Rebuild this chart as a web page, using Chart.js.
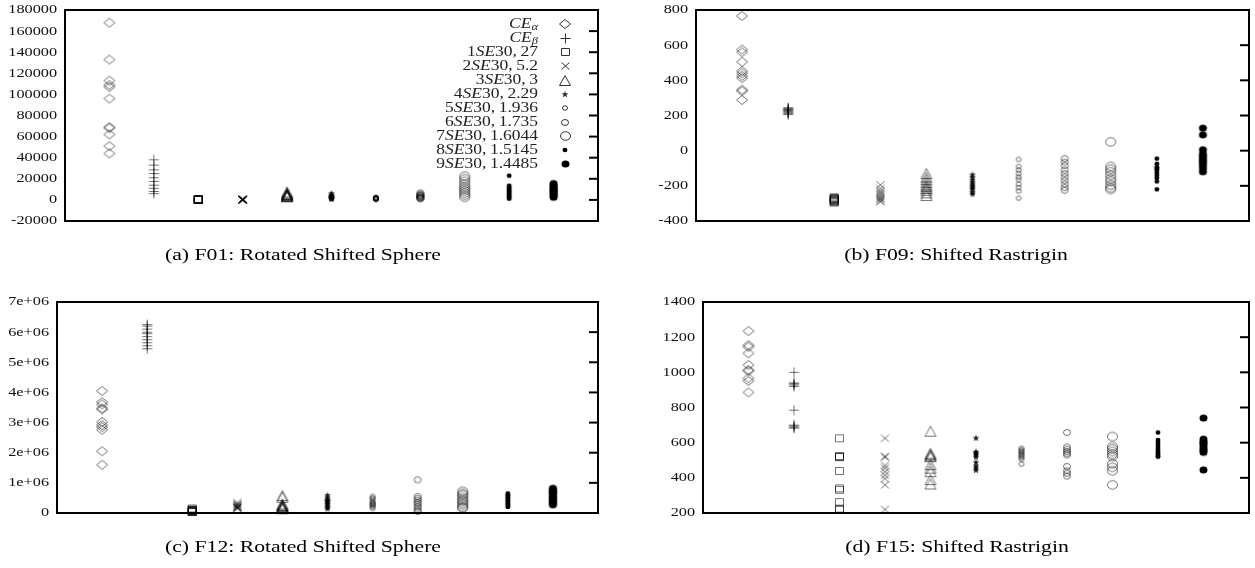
<!DOCTYPE html>
<html>
<head>
<meta charset="utf-8">
<script src="https://cdn.jsdelivr.net/npm/chart.js@4.4.1/dist/chart.umd.min.js"></script>
<style>
    body { margin: 0; background: #fff; width: 1255px; height: 568px; position: relative; overflow: hidden; font-family: "Liberation Serif", serif; }
    canvas { position: absolute; left: 0; top: 0; }
    .cap { position: absolute; font-size: 17.5px; white-space: nowrap; color: #000; transform: translate(-50%, -50%) scaleX(1.24); }
</style>
</head>
<body>
<canvas id="f01" width="1255" height="568"></canvas>
<canvas id="f09" width="1255" height="568"></canvas>
<canvas id="f12" width="1255" height="568"></canvas>
<canvas id="f15" width="1255" height="568"></canvas>
<div class="cap" style="left:303px;top:254px">(a) F01: Rotated Shifted Sphere</div>
<div class="cap" style="left:956px;top:254px">(b) F09: Shifted Rastrigin</div>
<div class="cap" style="left:303px;top:546px">(c) F12: Rotated Shifted Sphere</div>
<div class="cap" style="left:957px;top:546px">(d) F15: Shifted Rastrigin</div>
<script>
// categorias (ordem do eixo x)
const categories = ['CE_α', 'CE_β', '1SE30, 27', '2SE30, 5.2', '3SE30, 3', '4SE30, 2.29',
    '5SE30, 1.936', '6SE30, 1.735', '7SE30, 1.6044', '8SE30, 1.5145', '9SE30, 1.4485'];
const markerKinds = ['diamond', 'plus', 'square', 'cross', 'triangle', 'star', 'ringS', 'ring', 'ringL', 'dotS', 'dot'];

// F01: Rotated Shifted Sphere
const f01Values = [
    [168000, 133000, 113000, 109000, 107000, 96000, 69000, 68000, 62000, 51000, 44000],
    [38000, 33000, 28500, 25000, 21000, 17500, 14000, 11000, 8000, 6000],
    [900, 700, 500, 400, 300, 250, 200, 150, 100, 50],
    [600, 450, 350, 280, 220, 180, 140, 100, 70, 40],
    [7500, 6500, 5800, 5200, 5000, 4500, 4000, 3600, 3200, 2900],
    [6500, 5000, 4200, 3500, 3000, 2600, 2200, 1800, 1400, 1100],
    [2500, 2100, 1800, 1600, 1500, 1300, 1100, 900, 700, 500],
    [6600, 5600, 4800, 4200, 3600, 3000, 2500, 2000, 1500, 1000],
    [22500, 20000, 17500, 15000, 12500, 10500, 8500, 6500, 4500, 2500],
    [23000, 13500, 11500, 10000, 8500, 7000, 5500, 4000, 2500, 1200],
    [15500, 14000, 12500, 11000, 9500, 8500, 7000, 5500, 4000, 2500]
];
const f01Ticks = [-20000, 0, 20000, 40000, 60000, 80000, 100000, 120000, 140000, 160000, 180000];
const f01TickLabels = ['-20000', '0', '20000', '40000', '60000', '80000', '100000', '120000', '140000', '160000', '180000'];

// F09: Shifted Rastrigin
const f09Values = [
    [766, 575, 560, 505, 453, 440, 425, 412, 347, 338, 288],
    [245, 240, 235, 232, 228, 225, 220, 215, 210, 205],
    [-265, -270, -272, -275, -278, -280, -285, -288, -290, -295],
    [-195, -215, -230, -240, -250, -260, -270, -275, -285, -290],
    [-130, -150, -165, -180, -195, -205, -215, -225, -240, -255],
    [-135, -150, -165, -178, -190, -200, -210, -220, -235, -245],
    [-50, -90, -110, -130, -150, -165, -190, -210, -230, -270],
    [-45, -65, -85, -110, -130, -150, -170, -190, -210, -225],
    [50, -90, -105, -120, -140, -160, -175, -195, -210, -220],
    [-45, -75, -95, -100, -110, -125, -140, -155, -175, -220],
    [128, 90, 5, -20, -35, -50, -65, -80, -100, -120]
];
const f09Ticks = [-400, -200, 0, 200, 400, 600, 800];
const f09TickLabels = ['-400', '-200', '0', '200', '400', '600', '800'];

// F12: Rotated Shifted Sphere
const f12Values = [
    [4050000, 3680000, 3600000, 3470000, 3440000, 3020000, 2920000, 2850000, 2760000, 2050000, 1600000],
    [6250000, 6200000, 6100000, 6000000, 5950000, 5850000, 5750000, 5650000, 5550000, 5450000],
    [150000, 120000, 100000, 90000, 80000, 70000, 60000, 50000, 40000, 30000],
    [350000, 300000, 270000, 250000, 220000, 200000, 190000, 180000, 160000, 150000],
    [580000, 520000, 300000, 260000, 250000, 220000, 200000, 180000, 160000, 140000],
    [600000, 520000, 450000, 420000, 400000, 350000, 300000, 250000, 200000, 150000],
    [550000, 500000, 450000, 380000, 350000, 300000, 280000, 250000, 200000, 150000],
    [1100000, 550000, 480000, 420000, 350000, 300000, 230000, 170000, 100000, 50000],
    [720000, 650000, 600000, 520000, 450000, 400000, 330000, 270000, 200000, 160000],
    [650000, 600000, 550000, 500000, 450000, 400000, 350000, 300000, 250000, 200000],
    [820000, 750000, 700000, 650000, 580000, 520000, 470000, 400000, 330000, 270000]
];
const f12Ticks = [0, 1000000, 2000000, 3000000, 4000000, 5000000, 6000000, 7000000];
const f12TickLabels = ['0', '1e+06', '2e+06', '3e+06', '4e+06', '5e+06', '6e+06', '7e+06'];

// F15: Shifted Rastrigin
const f15Values = [
    [1235, 1155, 1145, 1108, 1042, 1013, 1008, 966, 951, 886],
    [1000, 940, 935, 928, 920, 785, 700, 695, 688, 683],
    [625, 524, 520, 518, 439, 340, 332, 262, 225, 218],
    [625, 522, 518, 470, 455, 435, 415, 395, 360, 220],
    [665, 540, 532, 525, 520, 475, 455, 435, 390, 365],
    [628, 550, 545, 540, 530, 520, 490, 470, 458, 445],
    [568, 560, 552, 545, 538, 530, 522, 515, 505, 478],
    [658, 575, 562, 550, 540, 530, 465, 440, 425, 410],
    [635, 578, 565, 550, 535, 522, 480, 460, 440, 360],
    [658, 615, 600, 585, 570, 555, 545, 535, 525, 520],
    [740, 620, 605, 600, 590, 578, 565, 555, 545, 445]
];
const f15Ticks = [200, 400, 600, 800, 1000, 1200, 1400];
const f15TickLabels = ['200', '400', '600', '800', '1000', '1200', '1400'];

const STRETCH = 1.25; // a figura original esta esticada na horizontal

// tamanho dos marcadores [largura, altura]
const markerSize = {
    diamond: [11, 9], plus: [10, 10], square: [8, 7], cross: [8, 7], triangle: [11, 10],
    star: [7, 7], ringS: [5, 4.5], ring: [7, 6], ringL: [10, 8.5], dotS: [5, 4.5], dot: [8, 7]
};

function makeMarker(kind, col) {
    const [w, h] = markerSize[kind];
    const c = document.createElement('canvas');
    c.width = Math.ceil(w) + 3;
    c.height = Math.ceil(h) + 3;
    const g = c.getContext('2d');
    const cx = c.width / 2, cy = c.height / 2;
    g.strokeStyle = col;
    g.fillStyle = col;
    g.lineWidth = 1;
    g.beginPath();
    switch (kind) {
        case 'diamond':
            g.moveTo(cx, cy - h / 2); g.lineTo(cx + w / 2, cy); g.lineTo(cx, cy + h / 2); g.lineTo(cx - w / 2, cy);
            g.closePath(); g.stroke(); break;
        case 'plus':
            g.moveTo(cx - w / 2, cy); g.lineTo(cx + w / 2, cy); g.moveTo(cx, cy - h / 2); g.lineTo(cx, cy + h / 2);
            g.stroke(); break;
        case 'square':
            g.rect(cx - w / 2, cy - h / 2, w, h); g.stroke(); break;
        case 'cross':
            g.moveTo(cx - w / 2, cy - h / 2); g.lineTo(cx + w / 2, cy + h / 2);
            g.moveTo(cx + w / 2, cy - h / 2); g.lineTo(cx - w / 2, cy + h / 2);
            g.stroke(); break;
        case 'triangle':
            g.moveTo(cx, cy - h / 2); g.lineTo(cx + w / 2, cy + h / 2); g.lineTo(cx - w / 2, cy + h / 2);
            g.closePath(); g.stroke(); break;
        case 'star':
            for (let k = 0; k < 10; k++) {
                const r = k % 2 === 0 ? 1 : 0.45;
                const a = -Math.PI / 2 + k * Math.PI / 5;
                const px = cx + Math.cos(a) * r * w / 2, py = cy + Math.sin(a) * r * h / 2 + 0.5;
                if (k === 0) g.moveTo(px, py); else g.lineTo(px, py);
            }
            g.closePath(); g.fill(); break;
        case 'ringS': case 'ring': case 'ringL':
            g.ellipse(cx, cy, w / 2, h / 2, 0, 0, Math.PI * 2); g.stroke(); break;
        default:
            g.ellipse(cx, cy, w / 2, h / 2, 0, 0, Math.PI * 2); g.fill();
    }
    return c;
}

function markerColor(kind) {
    if (kind === 'dot' || kind === 'dotS') return '#000';
    if (kind === 'star') return 'rgba(0,0,0,0.85)';
    return 'rgba(0,0,0,0.55)';
}

const plotMarkers = markerKinds.map(k => makeMarker(k, markerColor(k)));
const legendMarkers = markerKinds.map(k => makeMarker(k, k.startsWith('dot') ? '#000' : 'rgba(0,0,0,0.8)'));

// texto da legenda no estilo LaTeX
function labelSegments(text) {
    let m;
    if (text.startsWith('CE_')) {
        return [{ t: 'CE', f: 'italic 14px "Liberation Serif"', dy: 0 }, { t: text.slice(3), f: 'italic 10px "Liberation Serif"', dy: 3 }];
    }
    if ((m = text.match(/^(\d)(SE)(\d+),\s*(.*)$/))) {
        return [
            { t: m[1], f: '14px "Liberation Serif"', dy: 0 },
            { t: m[2], f: 'italic 14px "Liberation Serif"', dy: 0 },
            { t: m[3] + ',\u2009' + m[4], f: '14px "Liberation Serif"', dy: 0 }
        ];
    }
    return [{ t: text, f: '14px "Liberation Serif"', dy: 0 }];
}

const frame = {
    id: 'frame',
    afterDatasetsDraw(chart, args, opts) {
        const { ctx, chartArea: a, scales: { y } } = chart;
        ctx.save();
        ctx.strokeStyle = '#000';
        ctx.lineWidth = 2;
        ctx.strokeRect(a.left, a.top, a.right - a.left, a.bottom - a.top);

        ctx.fillStyle = '#111';
        ctx.font = '13px "Liberation Serif"';
        ctx.textAlign = 'right';
        ctx.textBaseline = 'middle';
        opts.ticks.forEach((v, i) => {
            const py = y.getPixelForValue(v);
            if (py > a.top + 2 && py < a.bottom - 2) {
                ctx.beginPath();
                ctx.moveTo(a.right, py);
                ctx.lineTo(a.right - 9, py);
                ctx.stroke();
            }
            ctx.save();
            ctx.translate(a.left - 8, py);
            ctx.scale(STRETCH, 1);
            ctx.fillText(opts.tickLabels[i], 0, 0);
            ctx.restore();
        });

        if (opts.legend) {
            ctx.textAlign = 'left';
            ctx.fillStyle = '#222';
            categories.forEach((label, i) => {
                const ry = a.top + 14 + 14 * i;
                const segs = labelSegments(label);
                let total = 0;
                segs.forEach(s => { ctx.font = s.f; s.w = ctx.measureText(s.t).width; total += s.w; });
                ctx.save();
                ctx.translate(538, ry);
                ctx.scale(STRETCH, 1);
                let x = -total;
                segs.forEach(s => { ctx.font = s.f; ctx.fillText(s.t, x, s.dy); x += s.w; });
                ctx.restore();
                const mk = legendMarkers[i];
                ctx.drawImage(mk, Math.round(565 - mk.width / 2), Math.round(ry - mk.height / 2));
            });
        }
        ctx.restore();
    }
};

function makeChart(id, values, ticks, tickLabels, box, withLegend) {
    const datasets = values.map((vals, i) => ({
        label: categories[i],
        data: vals.map(v => ({ x: i + 1, y: v })),
        pointStyle: plotMarkers[i],
        pointRadius: 5,
        clip: false
    }));
    return new Chart(document.getElementById(id), {
        type: 'scatter',
        data: { datasets: datasets },
        options: {
            responsive: false,
            animation: false,
            events: [],
            layout: { padding: { left: box[0], top: box[1], right: 1255 - box[2], bottom: 568 - box[3] } },
            scales: {
                x: { display: false, min: 0, max: 12 },
                y: { display: false, min: ticks[0], max: ticks[ticks.length - 1] }
            },
            plugins: {
                legend: { display: false },
                tooltip: { enabled: false },
                frame: { ticks: ticks, tickLabels: tickLabels, legend: withLegend }
            }
        },
        plugins: [frame]
    });
}

makeChart('f01', f01Values, f01Ticks, f01TickLabels, [65, 10, 598, 221], true);
makeChart('f09', f09Values, f09Ticks, f09TickLabels, [696, 10, 1253, 221], false);
makeChart('f12', f12Values, f12Ticks, f12TickLabels, [57, 302, 598, 513], false);
makeChart('f15', f15Values, f15Ticks, f15TickLabels, [703, 302, 1253, 513], false);
</script>
</body>
</html>
